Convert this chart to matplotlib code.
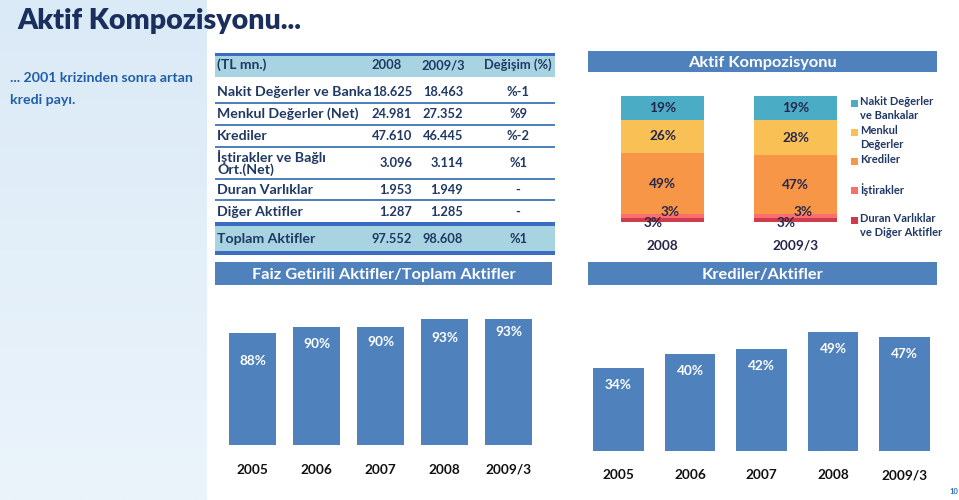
import numpy as np
import matplotlib
matplotlib.use('Agg')
import matplotlib.pyplot as plt
from matplotlib.patches import Rectangle
from matplotlib.colors import LinearSegmentedColormap

plt.rcParams['font.family'] = ['Lato', 'DejaVu Sans']
plt.rcParams['font.weight'] = 'bold'

W, H = 959, 500

# ---- data ----
row_labels = ['Nakit Değerler ve Banka', 'Menkul Değerler (Net)', 'Krediler',
              'İştirakler ve Bağlı\nOrt.(Net)', 'Duran Varlıklar', 'Diğer Aktifler']
col_2008 = ['18.625', '24.981', '47.610', '3.096', '1.953', '1.287']
col_2009 = ['18.463', '27.352', '46.445', '3.114', '1.949', '1.285']
col_change = ['%-1', '%9', '%-2', '%1', '-', '-']
total_row = ['Toplam Aktifler', '97.552', '98.608', '%1']
header_row = ['(TL mn.)', '2008', '2009/3', 'Değişim (%)']

comp_periods = ['2008', '2009/3']
comp_names = ['Duran Varlıklar\nve Diğer Aktifler', 'İştirakler', 'Krediler',
              'Menkul\nDeğerler', 'Nakit Değerler\nve Bankalar']
duran = [3, 3]
istirak = [3, 3]
kredi_pay = [49, 47]
menkul = [26, 28]
nakit = [19, 19]

years = ['2005', '2006', '2007', '2008', '2009/3']
faiz = [88, 90, 90, 93, 93]
kredi_aktif = [34, 40, 42, 49, 47]

navy = '#1f3864'
blue = '#4f81bd'
light = '#a8d4e2'
strong = '#3a6cc4'
comp_colors = ['#cf3a4c', '#fa6e6e', '#f79646', '#f8c055', '#4bacc6']

fig = plt.figure(figsize=(W / 100, H / 100), dpi=100)
bg = fig.add_axes([0, 0, 1, 1])
bg.axis('off')

# left strip
grad = np.linspace(0, 1, 200).reshape(-1, 1)
cm = LinearSegmentedColormap.from_list('strip', ['#dbeaf7', '#ebf4fb'])
bg.imshow(grad, cmap=cm, extent=(0, 207, H, 0), aspect='auto', zorder=0)
bg.set_xlim(0, W)
bg.set_ylim(H, 0)

bg.text(17, 21, 'Aktif Kompozisyonu...', fontsize=20.5, fontweight='heavy',
        color='#1b2f5e', va='center', ha='left')
bg.text(10, 78, '... 2001 krizinden sonra artan', fontsize=10.2, color='#1f5ea8', va='center')
bg.text(10, 100, 'kredi payı.', fontsize=10.2, color='#1f5ea8', va='center')


def rect(x0, y0, x1, y1, c, z=1):
    bg.add_patch(Rectangle((x0, y0), x1 - x0, y1 - y0, color=c, lw=0, zorder=z))


# ---- table ----
lab_fs = 10.2
num_fs = 9.3
tx0, tx1 = 215, 555
rect(tx0, 53, tx1, 77, light)
rect(tx0, 53, tx1, 56, strong)
hx = [217, 387, 443, 518]
bg.text(hx[0], 65, header_row[0], color=navy, fontsize=10, va='center')
for x, t in zip(hx[1:], header_row[1:]):
    bg.text(x, 65, t, color=navy, fontsize=num_fs, va='center', ha='center')

row_y = [92.5, 114, 136, 163, 190, 212]
seps = [103, 125, 147, 179, 200]
for y in seps:
    rect(tx0, y - 1, tx1, y + 1, blue)
for y, lab, a, b, c in zip(row_y, row_labels, col_2008, col_2009, col_change):
    bg.text(217, y, lab, color=navy, fontsize=lab_fs, va='center', linespacing=1.0)
    bg.text(412, y, a, color=navy, fontsize=num_fs, va='center', ha='right')
    bg.text(463, y, b, color=navy, fontsize=num_fs, va='center', ha='right')
    bg.text(518, y, c, color=navy, fontsize=num_fs, va='center', ha='center')

rect(tx0, 222, tx1, 226, strong)
rect(tx0, 226, tx1, 251, light)
rect(tx0, 251, tx1, 255, strong)
bg.text(217, 239, total_row[0], color=navy, fontsize=lab_fs, va='center')
bg.text(412, 239, total_row[1], color=navy, fontsize=num_fs, va='center', ha='right')
bg.text(463, 239, total_row[2], color=navy, fontsize=num_fs, va='center', ha='right')
bg.text(518, 239, total_row[3], color=navy, fontsize=num_fs, va='center', ha='center')

# ---- header bars ----
for (x0, y0, x1, y1), t in [((215, 262, 552, 285), 'Faiz Getirili Aktifler/Toplam Aktifler'),
                            ((588, 51, 937, 72), 'Aktif Kompozisyonu'),
                            ((588, 262, 937, 285), 'Krediler/Aktifler')]:
    rect(x0, y0, x1, y1, blue)
    bg.text((x0 + x1) / 2, (y0 + y1) / 2 + 1, t, color='white', fontsize=11.8,
            va='center', ha='center')


def px_axes(x0, y0, x1, y1):
    ax = fig.add_axes([x0 / W, 1 - y1 / H, (x1 - x0) / W, (y1 - y0) / H])
    ax.set_facecolor('none')
    for s in ax.spines.values():
        s.set_visible(False)
    ax.set_xticks([])
    ax.set_yticks([])
    return ax


# ---- stacked composition ----
ax = px_axes(588, 96, 850, 222)
ax.set_ylim(0, 100)
ax.set_xlim((588 - 662.5) / 133, (850 - 662.5) / 133)
xs = np.arange(len(comp_periods))
series = [duran, istirak, kredi_pay, menkul, nakit]
bottom = np.zeros(len(comp_periods))
small_off = {0: (-9, -3), 1: (8, 4)}
for k, (vals, col) in enumerate(zip(series, comp_colors)):
    ax.bar(xs, vals, 0.624, bottom=bottom, color=col, lw=0)
    for i, v in enumerate(vals):
        mid = bottom[i] + v / 2
        dx, dy = small_off.get(k, (0, 0))
        ax.annotate(f'{v}%', xy=(xs[i], mid), xytext=(dx * 0.72, dy * 0.72),
                    textcoords='offset points', ha='center', va='center',
                    color='#26264a', fontsize=9.8, annotation_clip=False)
    bottom += np.array(vals)
for i, p in enumerate(comp_periods):
    ax.annotate(p, xy=(xs[i], 0), xytext=(0, -24 * 0.72), textcoords='offset points',
                ha='center', va='center', color='#26264a', fontsize=9.8,
                annotation_clip=False)

# legend
leg_y = [103, 132, 161, 190, 220]
for y, name, col in zip(leg_y, comp_names[::-1], comp_colors[::-1]):
    rect(851, y - 3.5, 858, y + 3.5, col)
    bg.text(860, y - 7, name, color=navy, fontsize=8, va='top', linespacing=1.35)

# ---- faiz getirili bars ----
ax = px_axes(215, 299.4, 552, 445)
ax.set_ylim(48, 100)
ax.set_xlim((215 - 252.5) / 64, (552 - 252.5) / 64)
xs = np.arange(len(years))
ax.bar(xs, faiz, 0.734, color=blue, lw=0)
faiz_dy = [28, 17, 15, 19, 13]
for i, v in enumerate(faiz):
    ax.annotate(f'{v}%', xy=(i, v), xytext=(0, -faiz_dy[i] * 0.72), textcoords='offset points',
                ha='center', va='center', color='white', fontsize=9.8)
    ax.annotate(years[i], xy=(i, 0), xycoords=('data', 'axes fraction'),
                xytext=(0, -25 * 0.72), textcoords='offset points',
                ha='center', va='center', color='#111111', fontsize=9.8,
                annotation_clip=False)

# ---- krediler / aktifler bars ----
ax = px_axes(588, 305, 937, 451)
ax.set_ylim(0, 60)
ax.set_xlim((588 - 618.5) / 71.5, (937 - 618.5) / 71.5)
ax.bar(xs, kredi_aktif, 0.713, color=blue, lw=0)
for i, v in enumerate(kredi_aktif):
    ax.annotate(f'{v}%', xy=(i, v), xytext=(0, -17 * 0.72), textcoords='offset points',
                ha='center', va='center', color='white', fontsize=9.8)
    ax.annotate(years[i], xy=(i, 0), xycoords=('data', 'axes fraction'),
                xytext=(0, -24 * 0.72), textcoords='offset points',
                ha='center', va='center', color='#111111', fontsize=9.8,
                annotation_clip=False)

bg.text(954, 491, '10', color='#2f6fc0', fontsize=5.5, ha='center', va='center')

fig.savefig('out.png', dpi=100)
